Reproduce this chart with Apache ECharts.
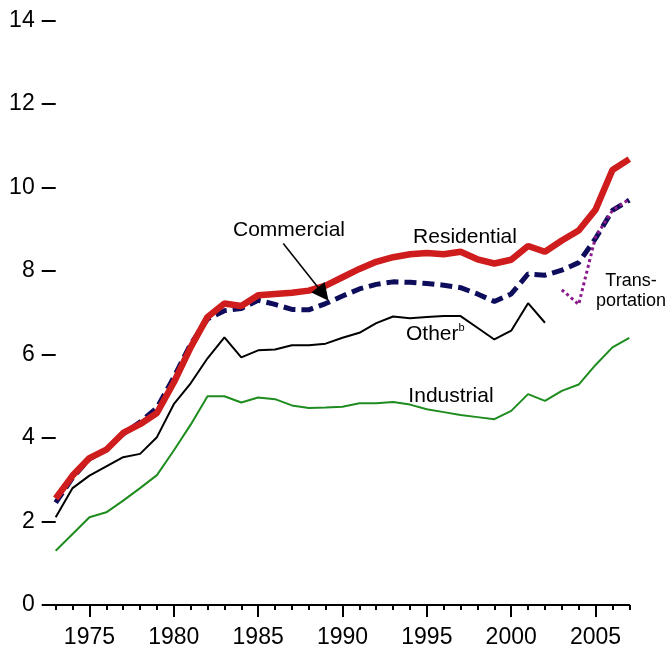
<!DOCTYPE html>
<html>
<head>
<meta charset="utf-8">
<script src="https://cdn.jsdelivr.net/npm/echarts@6/dist/echarts.min.js"></script>
<style>
html,body{margin:0;padding:0;background:#fff;}
#chart{width:668px;height:652px;}
</style>
</head>
<body>
<div id="chart"></div>
<script>
// ---- data ----
const years = [1973,1974,1975,1976,1977,1978,1979,1980,1981,1982,1983,1984,1985,1986,1987,1988,1989,1990,1991,1992,1993,1994,1995,1996,1997,1998,1999,2000,2001,2002,2003,2004,2005,2006,2007];
const residential = [2.55,3.1,3.52,3.72,4.12,4.33,4.6,5.33,6.17,6.9,7.22,7.16,7.42,7.45,7.48,7.53,7.65,7.85,8.05,8.22,8.33,8.4,8.43,8.4,8.46,8.28,8.18,8.27,8.6,8.46,8.73,8.97,9.47,10.42,10.68];
const commercial = [2.45,3.05,3.5,3.72,4.1,4.38,4.72,5.45,6.25,6.85,7.05,7.1,7.3,7.2,7.08,7.07,7.22,7.4,7.57,7.68,7.74,7.73,7.7,7.66,7.6,7.45,7.27,7.45,7.93,7.9,8.02,8.2,8.78,9.45,9.7];
const other = [2.1,2.8,3.1,3.32,3.54,3.62,4.02,4.81,5.31,5.91,6.41,5.93,6.1,6.12,6.22,6.22,6.26,6.4,6.52,6.75,6.91,6.87,6.9,6.92,6.92,6.64,6.36,6.57,7.23,6.76,null,null,null,null,null];
const industrial = [1.3,1.7,2.1,2.22,2.5,2.8,3.11,3.7,4.32,5.0,5.0,4.85,4.97,4.93,4.78,4.72,4.73,4.75,4.83,4.83,4.86,4.8,4.69,4.62,4.55,4.5,4.45,4.65,5.05,4.89,5.13,5.28,5.75,6.17,6.4];
const transportation = [null,null,null,null,null,null,null,null,null,null,null,null,null,null,null,null,null,null,null,null,null,null,null,null,null,null,null,null,null,null,7.55,7.2,8.82,9.45,9.72];
const xLabelValues = [1975,1980,1985,1990,1995,2000,2005];
const yMin = 0, yMax = 14, yStep = 2;
// annotation anchor points in data units [year, value]
const commercialArrow = [[1986.49, 8.66], [1988.86, 7.45]];
const annotations = [
  {text: 'Commercial', at: [1986.83, 8.98]},
  {text: 'Residential', at: [1997.26, 8.8]},
  {text: '{a|Other}{b|b}', at: [1995.5, 6.49], rich: true},
  {text: 'Industrial', at: [1996.43, 4.99]},
  {text: 'Trans-\nportation', at: [2007.1, 7.52], small: true}
];

const FONT = 'Liberation Sans, Arial, Helvetica, sans-serif';
const pairs = arr => years.map((y, i) => [y, arr[i]]);

const chart = echarts.init(document.getElementById('chart'), null, {renderer: 'canvas'});
const option = {
  animation: false,
  backgroundColor: '#fff',
  grid: {left: 55.7, right: 38.7, top: 20.5, bottom: 47, containLabel: false, outerBoundsMode: 'none'},
  xAxis: [
    {
      type: 'value', min: 1973, max: 2007, interval: 1,
      axisLine: {show: true, lineStyle: {color: '#000', width: 2}},
      axisTick: {show: true, length: 5, interval: 0, lineStyle: {color: '#000', width: 2}},
      axisLabel: {show: false},
      splitLine: {show: false}
    },
    {
      type: 'value', min: 1973, max: 2007, interval: 1, position: 'bottom',
      axisLine: {show: false},
      axisTick: {show: true, length: 12, customValues: xLabelValues, lineStyle: {color: '#000', width: 2}},
      axisLabel: {show: true, customValues: xLabelValues, formatter: v => String(v),
        color: '#000', fontSize: 23, fontFamily: FONT, margin: 21},
      splitLine: {show: false}
    }
  ],
  yAxis: {
    type: 'value', min: yMin, max: yMax, interval: yStep,
    axisLine: {show: false},
    axisTick: {show: true, length: 14, lineStyle: {color: '#000', width: 2}},
    axisLabel: {color: '#000', fontSize: 23, fontFamily: FONT, margin: 21},
    splitLine: {show: false}
  },
  series: [
    {name: 'Industrial', type: 'line', data: pairs(industrial), showSymbol: false, symbol: 'none',
      lineStyle: {color: '#1e8c1e', width: 2}},
    {name: 'Other', type: 'line', data: pairs(other), showSymbol: false, symbol: 'none',
      lineStyle: {color: '#000', width: 2}},
    {name: 'Commercial', type: 'line', data: pairs(commercial), showSymbol: false, symbol: 'none',
      lineStyle: {color: '#0d0d5c', width: 5, type: [12, 6]}},
    {name: 'Transportation', type: 'line', data: pairs(transportation), showSymbol: false, symbol: 'none',
      lineStyle: {color: '#8b1a8b', width: 3, type: [3, 3]}},
    {name: 'Residential', type: 'line', data: pairs(residential), showSymbol: false, symbol: 'none',
      lineStyle: {color: '#cf1c1c', width: 6.5},
      markLine: {
        silent: true, animation: false,
        symbol: ['none', 'triangle'], symbolSize: 17,
        label: {show: false},
        lineStyle: {color: '#000', width: 1.5, type: 'solid'},
        itemStyle: {color: '#000'},
        emphasis: {disabled: true},
        data: [[{coord: commercialArrow[0]}, {coord: commercialArrow[1]}]]
      }}
  ]
};
chart.setOption(option);

const graphics = annotations.map(a => {
  const p = chart.convertToPixel({seriesIndex: 0}, a.at);
  const style = {
    text: a.text, fill: '#000', fontFamily: FONT,
    fontSize: a.small ? 18 : 21, align: 'center', verticalAlign: 'middle'
  };
  if (a.small) style.lineHeight = 20;
  if (a.rich) {
    style.rich = {
      a: {fontSize: 21, fontFamily: FONT, fill: '#000', lineHeight: 24},
      b: {fontSize: 11, fontFamily: FONT, fill: '#000', lineHeight: 18, verticalAlign: 'top'}
    };
  }
  return {type: 'text', x: p[0], y: p[1], silent: true, style: style};
});
chart.setOption({graphic: graphics});
</script>
</body>
</html>
